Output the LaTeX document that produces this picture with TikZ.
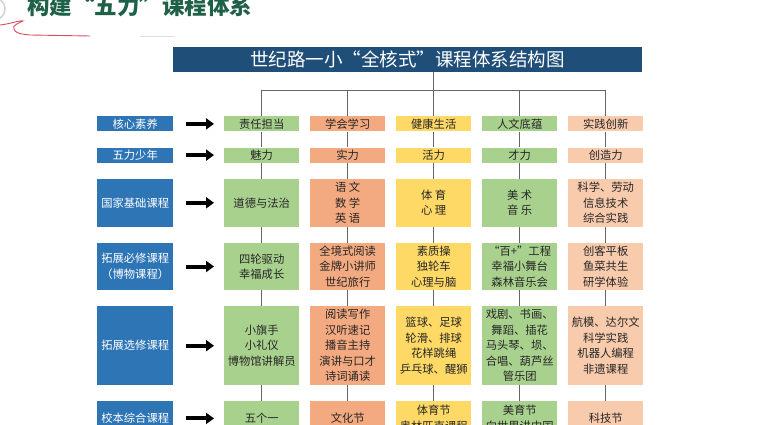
\documentclass[tikz,border=0pt]{standalone}
\usepackage{fontspec}
\newfontfamily\cjk{Noto Sans CJK SC}
\usetikzlibrary{matrix, arrows.meta}
\definecolor{navy}{RGB}{31,78,121}
\definecolor{labblue}{RGB}{46,117,182}
\definecolor{leaf}{RGB}{169,209,142}
\definecolor{apricot}{RGB}{244,170,128}
\definecolor{butter}{RGB}{255,217,102}
\definecolor{peach}{RGB}{248,203,173}
\definecolor{pine}{RGB}{30,96,72}
\definecolor{rose}{RGB}{214,80,96}
\tikzset{
  cell/.style={inner sep=1pt, minimum width=75pt, align=center, text=black!85, font=\cjk\fontsize{11.3}{15.5}\selectfont},
  lab/.style={cell, fill=labblue, text=white, minimum width=76pt},
  head/.style={fill=navy, text=white, minimum width=469pt, minimum height=25pt, inner sep=0pt, font=\cjk\fontsize{18.5}{20}\selectfont},
  ttl/.style={inner sep=0pt, text=pine, font=\cjk\bfseries\fontsize{22.5}{24}\selectfont},
  link/.style={draw=black!60, line width=0.8pt},
  fat/.style={line width=4pt, -{Triangle[length=8pt,width=11pt]}, shorten <=13pt, shorten >=10pt}
}
\begin{document}
\begin{tikzpicture}[x=1pt, y=-1pt]
\path[use as bounding box, fill=white] (0,0) rectangle (762,425);
\draw[gray!35, line width=1.5pt] (-6,9) circle (11);
\node[ttl, anchor=base west] (ttl) at (27,15) {构建“五力”课程体系};
\draw[rose, line width=0.9pt] (0,25) .. controls (10,24) and (20,20) .. (23,21) .. controls (18,23) and (12,26) .. (14,29) .. controls (15,33) and (20,34) .. (30,35) -- (90,36);
\draw[gray!25, line width=0.8pt] (140,36) -- (175,36);
\node[head] (head) at (407.3,59.8) {世纪路一小“全核式”课程体系结构图};
\matrix (m) at (97,116) [anchor=north west, inner sep=0pt, column sep=11pt, row sep=16pt,
  row 1/.style={nodes={minimum height=15pt}}, row 2/.style={nodes={minimum height=15pt}},
  row 3/.style={nodes={minimum height=48pt}}, row 4/.style={nodes={minimum height=47pt}},
  row 5/.style={nodes={minimum height=79pt}}, row 6/.style={nodes={minimum height=34pt}},
  column 2/.style={nodes={fill=leaf}}, column 3/.style={nodes={fill=apricot}},
  column 4/.style={nodes={fill=butter}}, column 5/.style={nodes={fill=leaf}},
  column 6/.style={nodes={fill=peach}}]{
\node[lab](l1){核心素养}; &[40pt] \node[cell](c11){责任担当}; & \node[cell](c12){学会学习}; & \node[cell](c13){健康生活}; & \node[cell](c14){人文底蕴}; & \node[cell](c15){实践创新}; \\
\node[lab](l2){五力少年}; & \node[cell](c21){魅力}; & \node[cell](c22){实力}; & \node[cell](c23){活力}; & \node[cell](c24){才力}; & \node[cell](c25){创造力}; \\
\node[lab](l3){国家基础课程}; & \node[cell](c31){道德与法治}; & \node[cell](c32){语 文\\数 学\\英 语}; & \node[cell](c33){体 育\\心 理}; & \node[cell](c34){美 术\\音 乐}; & \node[cell](c35){科学、劳动\\信息技术\\综合实践}; \\
\node[lab](l4){拓展必修课程\\（博物课程）}; & \node[cell](c41){四轮驱动\\幸福成长}; & \node[cell](c42){全境式阅读\\金牌小讲师\\世纪旅行}; & \node[cell](c43){素质操\\独轮车\\心理与脑}; & \node[cell](c44){“百+”工程\\幸福小舞台\\森林音乐会}; & \node[cell](c45){创客平板\\鱼菜共生\\研学体验}; \\
\node[lab](l5){拓展选修课程}; & \node[cell](c51){小旗手\\小礼仪\\博物馆讲解员}; & \node[cell](c52){阅读写作\\汉听速记\\播音主持\\演讲与口才\\诗词诵读}; & \node[cell](c53){篮球、足球\\轮滑、排球\\花样跳绳\\乒乓球、醒狮}; & \node[cell](c54){戏剧、书画、\\舞蹈、插花\\马头琴、埙、\\合唱、葫芦丝\\管乐团}; & \node[cell](c55){航模、达尔文\\科学实践\\机器人编程\\非遗课程}; \\
\node[lab](l6){校本综合课程}; & \node[cell](c61){五个一}; & \node[cell](c62){文化节}; & \node[cell](c63){体育节\\奥林匹克课程}; & \node[cell](c64){美育节\\向世界讲中国}; & \node[cell](c65){科技节}; \\
};
% tree under the heading
\coordinate (bar) at (0,90);
\draw[link] (head.south -| c13.north) -- (c13.north);
\draw[link] (c11.north) |- (bar -| c15.north) -- (c15.north);
\draw[link] (c12.north) -- (c12.north |- bar);
\draw[link] (c14.north) -- (c14.north |- bar);
\foreach \r/\n in {1/2,2/3,3/4,4/5,5/6}
  \foreach \j in {1,...,5}
    \draw[link] (c\r\j) -- (c\n\j);
\foreach \r in {1,...,6}
  \draw[fat] (l\r) -- (c\r1);
\end{tikzpicture}
\end{document}
